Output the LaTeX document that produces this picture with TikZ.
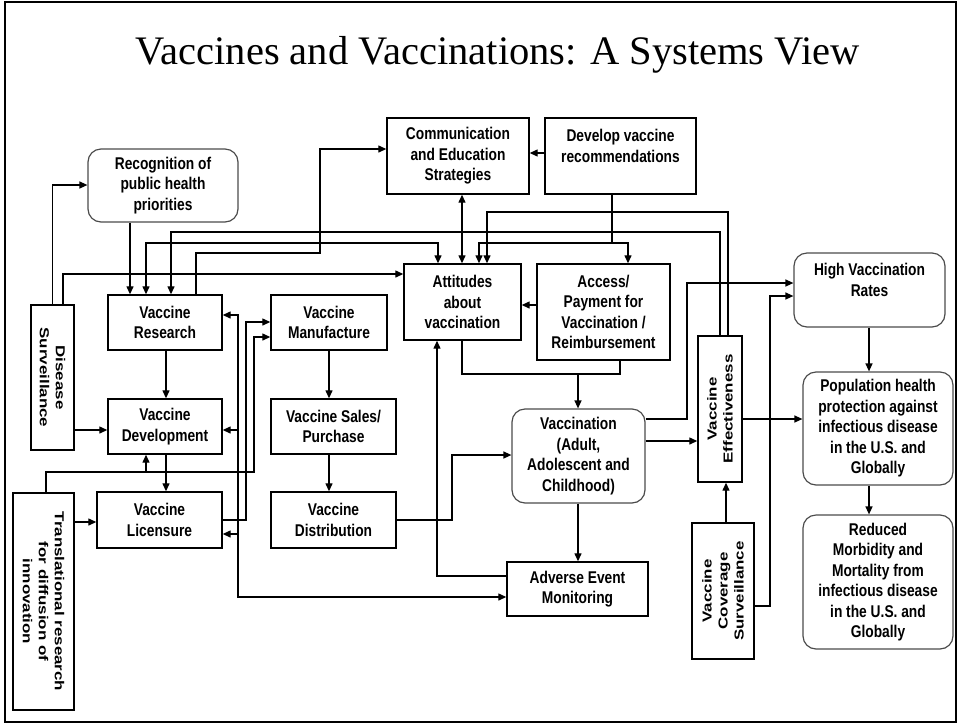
\documentclass[tikz,border=0pt]{standalone}
\usepackage{fontspec}
\usetikzlibrary{arrows.meta}
\newfontfamily\nfont[FakeStretch=0.81]{Liberation Sans}
\newfontfamily\rfont[FakeStretch=1.3]{Liberation Sans}
\newfontfamily\tfont{Liberation Serif}
\begin{document}
\begin{tikzpicture}[x=1pt,y=-1pt,
 box/.style={draw, line width=1.4pt, inner sep=0pt, align=center, font={\nfont\bfseries\fontsize{17}{20.5}\selectfont}},
 rbox/.style={box, rounded corners=13pt, draw=black!70, line width=1.2pt},
 vbox/.style={draw, line width=1.4pt, inner sep=0pt},
 vtext/.style={inner sep=0pt, align=center, font={\rfont\bfseries\fontsize{13}{16}\selectfont}},
 arr/.style={line width=1.3pt, -{Triangle[length=8pt,width=7pt]}},
 arrb/.style={line width=1.3pt, {Triangle[length=8pt,width=7pt]}-{Triangle[length=8pt,width=7pt]}},
 ln/.style={line width=1.3pt},
]
\useasboundingbox (0,0) rectangle (959,724);
\draw[line width=2pt] (5,2) rectangle (956,722);
\node[font={\tfont\fontsize{40.5}{42}\selectfont}] (title) at (498,55) {Vaccines and Vaccinations: A Systems View};

% nodes
\node[rbox, minimum width=150pt, minimum height=73pt] (rec) at (163,185.5) {Recognition of\\public health\\priorities};
\node[box, minimum width=142pt, minimum height=76pt] (comm) at (458,156) {Communication\\and Education\\Strategies};
\node[box, minimum width=151pt, minimum height=76pt] (dev) at (620.5,156) {Develop vaccine\\recommendations\\\mbox{}};
\node[box, minimum width=117pt, minimum height=76pt] (att) at (462.5,302) {Attitudes\\about\\vaccination};
\node[box, minimum width=133pt, minimum height=96pt] (acc) at (603.5,312) {Access/\\Payment for\\Vaccination /\\Reimbursement};
\node[box, minimum width=116pt, minimum height=55pt] (man) at (329,322.5) {Vaccine\\Manufacture};
\node[box, minimum width=125pt, minimum height=55pt] (sal) at (333.5,426.5) {Vaccine Sales/\\Purchase};
\node[box, minimum width=125pt, minimum height=56pt] (dis) at (333.5,520) {Vaccine\\Distribution};
\node[rbox, minimum width=133pt, minimum height=94pt] (vac) at (578.5,456) {Vaccination\\(Adult,\\Adolescent and\\Childhood)};
\node[box, minimum width=141pt, minimum height=54pt] (aem) at (577.5,589) {Adverse Event\\Monitoring};
\node[box, minimum width=114pt, minimum height=55pt] (res) at (165,322.5) {Vaccine\\Research};
\node[box, minimum width=114pt, minimum height=55pt] (vdev) at (165,426.5) {Vaccine\\Development};
\node[box, minimum width=125pt, minimum height=56pt] (lic) at (159.5,520) {Vaccine\\Licensure};
\node[rbox, minimum width=151pt, minimum height=74pt] (hvr) at (869.5,290) {High Vaccination\\Rates\\\mbox{}};
\node[rbox, minimum width=150pt, minimum height=113pt] (pop) at (878,428.5) {Population health\\protection against\\infectious disease\\in the U.S. and\\Globally};
\node[rbox, minimum width=150pt, minimum height=134pt] (red) at (878,582) {Reduced\\Morbidity and\\Mortality from\\infectious disease\\in the U.S. and\\Globally};

\node[vbox, minimum width=43pt, minimum height=145pt] (ds) at (52.5,377.5) {};
\node[vtext, rotate=-90] (dst) at (ds.center) {Disease\\Surveillance};
\node[vbox, minimum width=61pt, minimum height=217pt] (tr) at (43.5,601.5) {};
\node[vtext, rotate=-90] (trt) at (tr.center) {Translational research\\for diffusion of\\innovation};
\node[vbox, minimum width=44pt, minimum height=146pt] (ve) at (720,409) {};
\node[vtext, rotate=90] (vet) at (ve.center) {Vaccine\\Effectiveness};
\node[vbox, minimum width=62pt, minimum height=136pt] (vcs) at (723,591) {};
\node[vtext, rotate=90] (vcst) at (vcs.center) {Vaccine\\Coverage\\Surveillance};

% connectors
\draw[arr] (ds.north) |- (rec.west |- 0,185);
\draw[arr] (ds.north -| 63,0) |- (att.west |- 0,274);
\draw[arr] (rec.south -| 130,0) -- (res.north -| 130,0);
\draw[arrb] (res.north -| 146,0) |- (438,243) -- (att.north -| 438,0);
\draw[arr] (ve.north -| 720,0) |- (171,232) -- (res.north -| 171,0);
\draw[arr] (ve.north -| 728,0) |- (487,212) -- (att.north -| 487,0);
\draw[arr] (res.north -| 196,0) -- (196,253) -- (320,253) |- (comm.west |- 0,149);
\draw[arrb] (comm.south -| 462,0) -- (att.north -| 462,0);
\draw[arr] (dev.west |- 0,153) -- (comm.east |- 0,153);
\draw[arr] (dev.south -| 612,0) |- (479,243) -- (att.north -| 479,0);
\draw[arr] (dev.south -| 612,0) |- (628,243) -- (acc.north -| 628,0);
\draw[arr] (acc.west |- 0,305) -- (att.east |- 0,305);
\draw[arr] (att.south -| 462,0) |- (578,374) -- (vac.north -| 578,0);
\draw[ln] (acc.south -| 620,0) |- (578,374);
\draw[arr] (res.south -| 166,0) -- (vdev.north -| 166,0);
\draw[arr] (vdev.south -| 166,0) -- (lic.north -| 166,0);
\draw[arr] (ds.east |- 0,430) -- (vdev.west |- 0,430);
\draw[arr] (tr.east |- 0,522) -- (lic.west |- 0,522);
\coordinate (j1) at (146,472);
\draw[arr] (tr.north -| 46,0) |- (254,472) |- (man.west |- 0,337);
\draw[arr] (j1) -- (vdev.south -| 146,0);
\draw[arr] (lic.east |- 0,520) -| (246,322) -- (man.west |- 0,322);
\coordinate (b1) at (238,430);
\coordinate (b2) at (238,534);
\draw[arrb] (res.east |- 0,315) -- (238,315) |- (aem.west |- 0,597);
\draw[arr] (b1) -- (vdev.east |- 0,430);
\draw[arr] (b2) -- (lic.east |- 0,534);
\draw[arr] (aem.west |- 0,576) -| (att.south -| 437,0);
\draw[arr] (dis.east |- 0,520) -| (452,455) -- (vac.west |- 0,455);
\draw[arr] (man.south -| 329,0) -- (sal.north -| 329,0);
\draw[arr] (sal.south -| 329,0) -- (dis.north -| 329,0);
\draw[arr] (vac.south -| 578,0) -- (aem.north -| 578,0);
\draw[arr] (vac.east |- 0,441) -- (ve.west |- 0,441);
\draw[arr] (vac.east |- 0,419) -| (687,283) -- (hvr.west |- 0,283);
\draw[arr] (vcs.east |- 0,606) -| (770,296) -- (hvr.west |- 0,296);
\draw[arr] (vcs.north -| 726,0) -- (ve.south -| 726,0);
\draw[arr] (ve.east |- 0,419) -- (pop.west |- 0,419);
\draw[arr] (hvr.south -| 869,0) -- (pop.north -| 869,0);
\draw[arr] (pop.south -| 869,0) -- (red.north -| 869,0);
\end{tikzpicture}
\end{document}
